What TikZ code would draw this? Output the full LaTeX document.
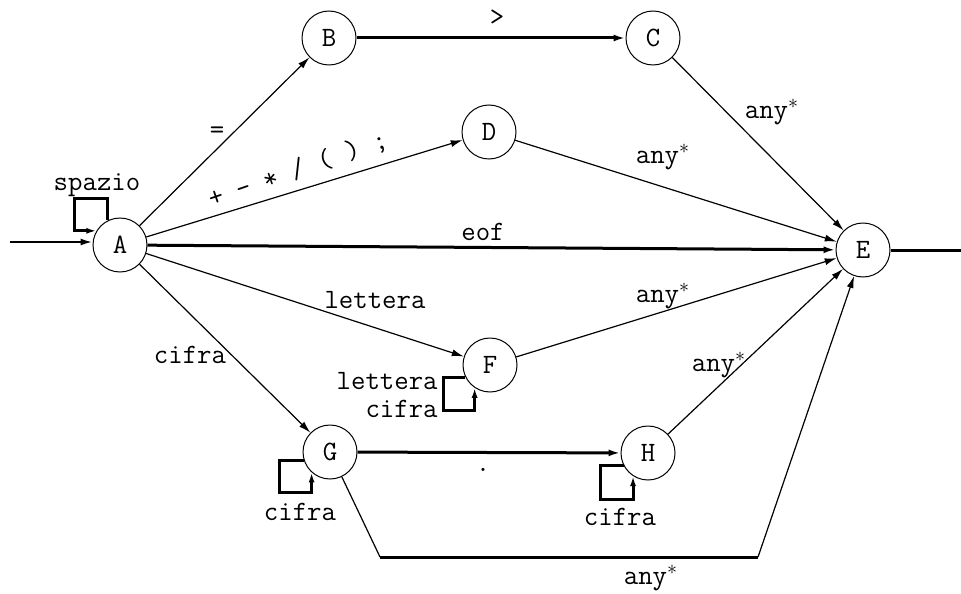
\documentclass[tikz,border=0pt]{standalone}
\usepackage{fontspec}
\usetikzlibrary{arrows.meta}

\begin{document}
\begin{tikzpicture}[x=0.5pt,y=-0.5pt,
    font=\ttfamily\fontsize{14}{15}\selectfont,
    state/.style={circle,draw,line width=0.5pt,minimum size=27pt,inner sep=0pt},
    trans/.style={line width=0.6pt,-{Latex[length=6pt,width=3.5pt]}},
    strong/.style={line width=1.5pt,-{Latex[length=6pt,width=3.5pt]}},
    loopline/.style={line width=1.5pt,-{Latex[length=5pt,width=3pt]}}]
    \useasboundingbox (0,0) rectangle (961,593);

    % stati
    \node[state] (A) at (120,245) {A};
    \node[state] (B) at (329,38) {B};
    \node[state] (C) at (653,38) {C};
    \node[state] (D) at (489,132) {D};
    \node[state] (E) at (863,250) {E};
    \node[state] (F) at (490,365) {F};
    \node[state] (G) at (330,452) {G};
    \node[state] (H) at (648,453) {H};

    % ingresso e uscita
    \coordinate (in) at (10,242);
    \coordinate (out) at (961,250);
    \draw[line width=1pt,-{Latex[length=6pt,width=3.5pt]}] (in) -- (A.west |- in);
    \draw[line width=1.5pt] (E.east) -- (out);

    % transizioni
    \draw[trans] (A) -- (B);
    \draw[trans] (A) -- (D);
    \draw[strong] (A) -- (E);
    \draw[trans] (A) -- (F);
    \draw[trans] (A) -- (G);
    \draw[strong] (B) -- (C);
    \draw[trans] (C) -- (E);
    \draw[trans] (D) -- (E);
    \draw[trans] (F) -- (E);
    \draw[strong] (G) -- (H);
    \draw[trans] (H) -- (E);

    % da G a E passando sotto
    \coordinate (g1) at (380,557);
    \coordinate (g2) at (758,557);
    \draw[line width=0.6pt] (G) -- (g1);
    \draw[line width=1.5pt] (g1) -- (g2);
    \draw[trans] (g2) -- (E);

    % cappi
    \draw[loopline] (A.117) |- (74,198) |- (A.149);
    \draw[loopline] (F.206) -| (443,410) -| (F.236);
    \draw[loopline] (G.198) -| (279,492) -| (G.228);
    \draw[loopline] (H.207) -| (600,499) -| (H.237);

    % etichette
    \node (lspazio) at (97,185) {spazio};
    \node (leq) at (217,133) {=};
    \node[rotate=19] (lops) at (298,170) {+ - * / ( ) ;};
    \node (leof) at (483,232) {eof};
    \node (lgt) at (497,18) {>};
    \node (llett) at (375,300) {lettera};
    \node (lcifra) at (190,355) {cifra};
    \node (lanyC) at (772,112) {any$^*$};
    \node (lanyD) at (663,157) {any$^*$};
    \node (lanyF) at (663,296) {any$^*$};
    \node (lanyH) at (719,365) {any$^*$};
    \node (lanyG) at (651,578) {any$^*$};
    \node[anchor=east,align=right,inner sep=0pt] (lloopF) at (438,395) {lettera\\[-1pt]cifra};
    \node (lloopG) at (300,512) {cifra};
    \node (lloopH) at (620,517) {cifra};
    \node (ldot) at (483,470) {.};
\end{tikzpicture}
\end{document}
